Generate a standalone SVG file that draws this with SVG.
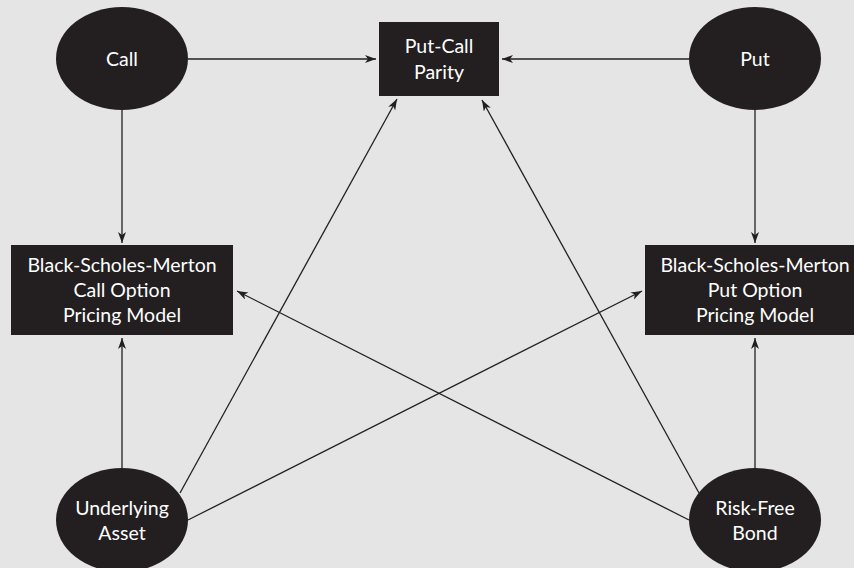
<svg xmlns="http://www.w3.org/2000/svg" width="854" height="568" viewBox="0 0 854 568">
<defs>
<marker id="ah" markerUnits="userSpaceOnUse" markerWidth="12" markerHeight="9" refX="11" refY="4" orient="auto">
<path d="M0,0 L11,4 L0,8 L3,4 z" fill="#231f20"/>
</marker>
<style>
.n{fill:#231f20}
.t{font-family:Lato,"Open Sans","Liberation Sans",sans-serif;font-size:19.5px;fill:#ffffff;text-anchor:middle}
.c{stroke:#231f20;stroke-width:1.3;fill:none;marker-end:url(#ah)}
</style>
</defs>
<rect width="854" height="568" fill="#e5e5e5"/>
<g id="connectors">
<line class="c" x1="188" y1="59" x2="376" y2="59"/>
<line class="c" x1="689" y1="59" x2="502" y2="59"/>
<line class="c" x1="122" y1="110" x2="122" y2="243"/>
<line class="c" x1="755" y1="110" x2="755" y2="243"/>
<line class="c" x1="122" y1="468" x2="122" y2="338"/>
<line class="c" x1="755" y1="468" x2="755" y2="338"/>
<line class="c" x1="180" y1="493" x2="397" y2="99"/>
<line class="c" x1="188" y1="520" x2="642" y2="291"/>
<line class="c" x1="699" y1="493" x2="482" y2="100"/>
<line class="c" x1="689" y1="520" x2="237" y2="291"/>
</g>
<g id="call">
<ellipse class="n" cx="122" cy="58.5" rx="66" ry="51.5"/>
<text class="t" x="122" y="66">Call</text>
</g>
<g id="put">
<ellipse class="n" cx="755" cy="58.5" rx="66" ry="51.5"/>
<text class="t" x="755" y="66">Put</text>
</g>
<g id="parity">
<rect class="n" x="379" y="22" width="120" height="74"/>
<text class="t" x="439" y="53">Put-Call</text>
<text class="t" x="439" y="79">Parity</text>
</g>
<g id="bsm-call">
<rect class="n" x="11" y="245" width="222" height="90"/>
<text class="t" x="122" y="272">Black-Scholes-Merton</text>
<text class="t" x="122" y="297">Call Option</text>
<text class="t" x="122" y="322">Pricing Model</text>
</g>
<g id="bsm-put">
<rect class="n" x="645" y="245" width="222" height="90"/>
<text class="t" x="755" y="272">Black-Scholes-Merton</text>
<text class="t" x="755" y="297">Put Option</text>
<text class="t" x="755" y="322">Pricing Model</text>
</g>
<g id="underlying">
<ellipse class="n" cx="122" cy="520" rx="66" ry="52"/>
<text class="t" x="122" y="515">Underlying</text>
<text class="t" x="122" y="540">Asset</text>
</g>
<g id="riskfree">
<ellipse class="n" cx="755" cy="520" rx="66" ry="52"/>
<text class="t" x="755" y="515">Risk-Free</text>
<text class="t" x="755" y="540">Bond</text>
</g>
</svg>
